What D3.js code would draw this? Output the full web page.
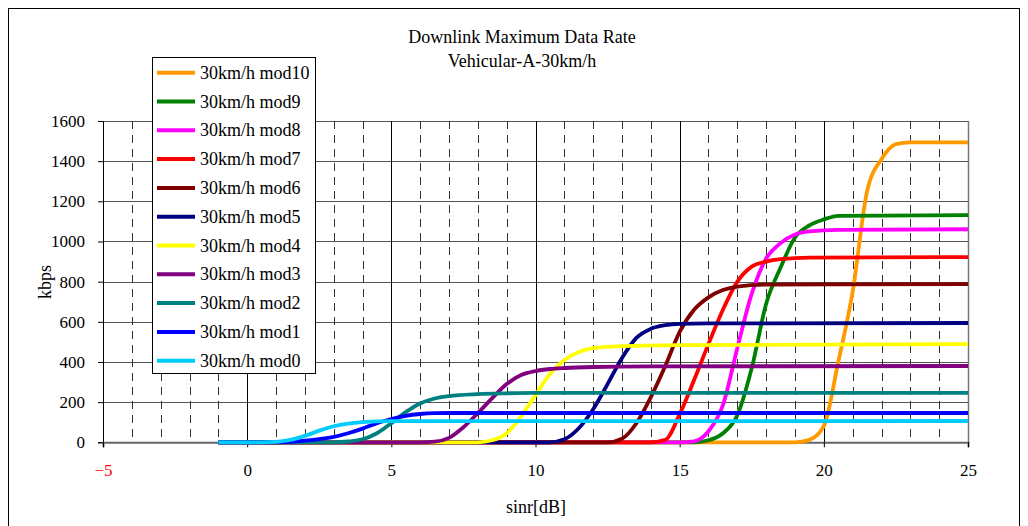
<!DOCTYPE html>
<html>
<head>
<meta charset="utf-8">
<script src="https://cdn.jsdelivr.net/npm/d3@7"></script>
<style>
  html, body { margin: 0; padding: 0; background: #fff; }
  svg { display: block; font-family: "Liberation Serif", "Times New Roman", serif; }
</style>
</head>
<body>
<svg id="chart" width="1028" height="526"></svg>
<script>
// Downlink maximum data rate per modulation scheme, Vehicular-A 30 km/h
// Each series: [sinr dB, kbps]
const mod0  = [[-1,0],[0.5,0],[1,2],[1.5,12],[2,32],[2.5,58],[3,80],[3.5,93],[4,100],[5,105],[25,106]];
const mod1  = [[-1,0],[1,0],[1.5,2],[2,8],[2.5,16],[3,27],[3.5,45],[4,68],[4.5,95],[5,116],[5.5,132],[6,141],[6.5,145],[7,146],[25,146]];
const mod2  = [[-1,0],[3,0],[3.5,4],[4,15],[4.5,45],[5,95],[5.5,150],[6,193],[6.5,218],[7,230],[8,240],[9,244],[10,246],[25,246]];
const mod3  = [[-1,0],[6,0],[6.5,3],[7,22],[7.5,75],[8,145],[8.5,220],[9,290],[9.5,335],[10,355],[10.5,365],[11,370],[12,375],[14,378],[25,380]];
const mod4  = [[-1,0],[8,0],[8.5,10],[9,45],[9.5,130],[10,235],[10.5,340],[11,410],[11.5,450],[12,469],[13,479],[15,484],[25,489]];
const mod5  = [[-1,0],[10.5,0],[11,15],[11.5,70],[12,165],[12.5,290],[13,420],[13.5,520],[14,565],[14.5,583],[15,590],[16,592],[25,594]];
const mod6  = [[-1,0],[12.5,0],[13,18],[13.5,95],[14,225],[14.5,380],[15,550],[15.5,660],[16,722],[16.5,758],[17,775],[18,785],[25,788]];
const mod7  = [[-1,0],[14,0],[14.5,12],[15,140],[15.5,310],[16,490],[16.5,660],[17,800],[17.5,875],[18,900],[18.5,912],[19.5,920],[25,922]];
const mod8  = [[-1,0],[15,0],[15.5,5],[16,55],[16.5,185],[17,470],[17.5,740],[18,915],[18.5,992],[19,1035],[19.5,1050],[20.5,1058],[25,1061]];
const mod9  = [[-1,0],[15.5,0],[16,10],[16.5,45],[17,135],[17.5,370],[18,690],[18.5,870],[19,1020],[19.5,1080],[20,1110],[20.5,1128],[25,1131]];
const mod10 = [[-1,0],[19,0],[19.5,12],[20,80],[20.5,400],[21,750],[21.5,1250],[22,1410],[22.5,1485],[23,1494],[25,1494]];

const seriesNames  = ["30km/h mod10","30km/h mod9","30km/h mod8","30km/h mod7","30km/h mod6",
                      "30km/h mod5","30km/h mod4","30km/h mod3","30km/h mod2","30km/h mod1","30km/h mod0"];
const seriesData   = [mod10, mod9, mod8, mod7, mod6, mod5, mod4, mod3, mod2, mod1, mod0];
const seriesColors = ["#FF9900","#008000","#FF00FF","#FF0000","#800000",
                      "#000080","#FFFF00","#800080","#008080","#0000FF","#00CCFF"];

const xTicks = [-5, 0, 5, 10, 15, 20, 25];
const xMinor = d3.range(-4, 25);
const yTicks = [0, 200, 400, 600, 800, 1000, 1200, 1400, 1600];

const titleLines = ["Downlink Maximum Data Rate", "Vehicular-A-30km/h"];

const svg = d3.select("#chart");

// outer frame
svg.append("rect")
  .attr("x", 8.5).attr("y", 8.5)
  .attr("width", 1011).attr("height", 530)
  .attr("fill", "#fff").attr("stroke", "#000").attr("stroke-width", 1);

const x = d3.scaleLinear().domain([-5, 25]).range([103, 968]);
const y = d3.scaleLinear().domain([0, 1600]).range([442.3, 121]);

// horizontal gridlines
svg.append("g").selectAll("line").data(yTicks.filter(v => v > 0)).join("line")
  .attr("x1", x(-5)).attr("x2", x(25))
  .attr("y1", d => Math.round(y(d)) + 0.5).attr("y2", d => Math.round(y(d)) + 0.5)
  .attr("stroke", "#555").attr("stroke-width", 1.2);

// dashed minor verticals
svg.append("g").selectAll("line").data(xMinor.filter(v => v % 5 !== 0)).join("line")
  .attr("x1", d => Math.round(x(d)) + 0.5).attr("x2", d => Math.round(x(d)) + 0.5)
  .attr("y1", y(1600)).attr("y2", y(0))
  .attr("stroke", "#333").attr("stroke-width", 1)
  .attr("stroke-dasharray", "8,6");

// solid major verticals
svg.append("g").selectAll("line").data(xTicks.filter(v => v > -5)).join("line")
  .attr("x1", d => Math.round(x(d)) + 0.5).attr("x2", d => Math.round(x(d)) + 0.5)
  .attr("y1", y(1600)).attr("y2", y(0))
  .attr("stroke", d => d === 25 ? "#777" : "#000").attr("stroke-width", d => d === 25 ? 1.5 : 1);

// axes
const yAxis = d3.axisLeft(y).tickValues(yTicks).tickSize(5).tickPadding(13).tickFormat(d3.format("d"));
const gy = svg.append("g").attr("transform", `translate(${x(-5)},0)`).call(yAxis);
gy.select(".domain").attr("stroke", "#000");
gy.selectAll(".tick line").attr("stroke", "#000");
gy.selectAll("text").attr("font-family", "Liberation Serif").attr("font-size", 17).attr("fill", "#000");

const xAxis = d3.axisBottom(x).tickValues(xTicks).tickSize(5).tickPadding(17).tickFormat(d3.format("d"));
const gx = svg.append("g").attr("transform", `translate(0,${y(0)})`).call(xAxis);
gx.select(".domain").attr("stroke", "#666").attr("stroke-width", 2);
gx.selectAll(".tick line").attr("stroke", "#000");
gx.selectAll("text").attr("font-family", "Liberation Serif").attr("font-size", 17)
  .attr("fill", d => d < 0 ? "#FF0000" : "#000");

// series curves, lowest modulation drawn last (on top)
const line = d3.line().x(d => x(d[0])).y(d => y(d[1])).curve(d3.curveMonotoneX);
svg.append("g").selectAll("path").data(seriesData).join("path")
  .attr("d", d => line(d))
  .attr("fill", "none")
  .attr("stroke", (d, i) => seriesColors[i])
  .attr("stroke-width", 3.8)
  .attr("stroke-linejoin", "round");

// titles
svg.append("g").selectAll("text").data(titleLines).join("text")
  .attr("x", 522).attr("y", (d, i) => 43 + i * 24)
  .attr("text-anchor", "middle")
  .attr("font-size", 18)
  .text(d => d);

svg.append("text")
  .attr("transform", `translate(51,282) rotate(-90)`)
  .attr("text-anchor", "middle")
  .attr("font-size", 18)
  .text("kbps");

svg.append("text")
  .attr("x", 536).attr("y", 513)
  .attr("text-anchor", "middle")
  .attr("font-size", 18)
  .text("sinr[dB]");

// legend
const legend = svg.append("g");
legend.append("rect")
  .attr("x", 152.5).attr("y", 57.5).attr("width", 163).attr("height", 316)
  .attr("fill", "#fff").attr("stroke", "#000").attr("stroke-width", 1);
const items = legend.selectAll("g.item").data(seriesNames).join("g")
  .attr("class", "item")
  .attr("transform", (d, i) => `translate(0,${72.7 + i * 28.8})`);
items.append("line")
  .attr("x1", 157).attr("x2", 195).attr("y1", 0).attr("y2", 0)
  .attr("stroke", (d, i) => seriesColors[i]).attr("stroke-width", 4);
items.append("text")
  .attr("x", 200).attr("y", 6)
  .attr("font-size", 18)
  .text(d => d);
</script>
</body>
</html>
